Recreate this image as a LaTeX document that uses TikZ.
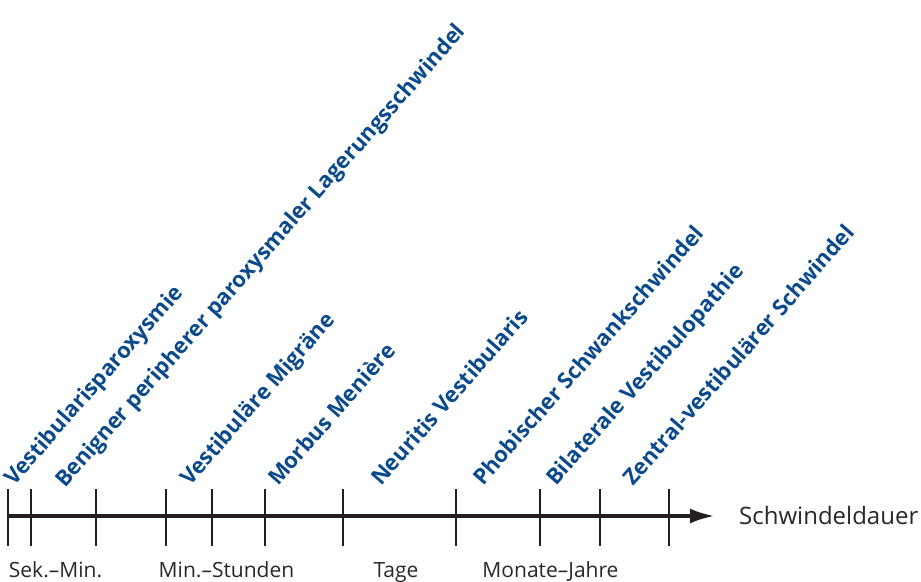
\documentclass[tikz,border=0pt]{standalone}
\usepackage{fontspec}
\setmainfont{Open Sans}
\usetikzlibrary{arrows.meta}
\definecolor{lblblue}{RGB}{10,74,140}
\definecolor{axisgray}{RGB}{35,31,32}
\definecolor{txtgray}{RGB}{40,40,40}
\tikzset{
  tickline/.style={line width=2pt, draw=axisgray},
  disease/.style={rotate=48.7, anchor=base west, inner sep=0pt, text=lblblue, font=\fontsize{22}{26}\selectfont\bfseries},
  rangelbl/.style={anchor=base, inner sep=0pt, text=txtgray, font=\fontsize{21}{24}\selectfont},
}
\begin{document}
\begin{tikzpicture}[x=1pt,y=-1pt]
\useasboundingbox (0,0) rectangle (921,581);
% axis
\coordinate (a0) at (7.5,516);
\coordinate (a1) at (715,516);
\draw[line width=4pt, draw=axisgray, -{Latex[length=25pt,width=15pt]}] (a0) -- (a1);
% ticks
\foreach \x [count=\i] in {7.5,30.5,95.5,166,211.5,265,342.5,455.5,539.5,599.5,669} {
  \coordinate (t\i a) at (\x,489);
  \coordinate (t\i b) at (\x,546);
  \draw[tickline] (t\i a) -- (t\i b);
}
% range labels
\node[rangelbl] (r1) at (55.5,577) {Sek.–Min.};
\node[rangelbl] (r2) at (226.5,577) {Min.–Stunden};
\node[rangelbl] (r3) at (396,577) {Tage};
\node[rangelbl] (r4) at (550.5,577) {Monate–Jahre};
\node[anchor=west, inner sep=0pt, text=txtgray, font=\fontsize{24}{28}\selectfont] (xl) at (739,515) {Schwindeldauer};
% diseases
\node[disease] (d1) at (14,487) {Vestibularisparoxysmie};
\node[disease] (d2) at (65,489) {Benigner peripherer paroxysmaler Lagerungsschwindel};
\node[disease] (d3) at (190,487) {Vestibuläre Migräne};
\node[disease] (d4) at (278,487) {Morbus Menière};
\node[disease] (d5) at (381,487) {Neuritis Vestibularis};
\node[disease] (d6) at (483,487) {Phobischer Schwankschwindel};
\node[disease] (d7) at (556,487) {Bilaterale Vestibulopathie};
\node[disease] (d8) at (633,487) {Zentral-vestibulärer Schwindel};
\end{tikzpicture}
\end{document}
